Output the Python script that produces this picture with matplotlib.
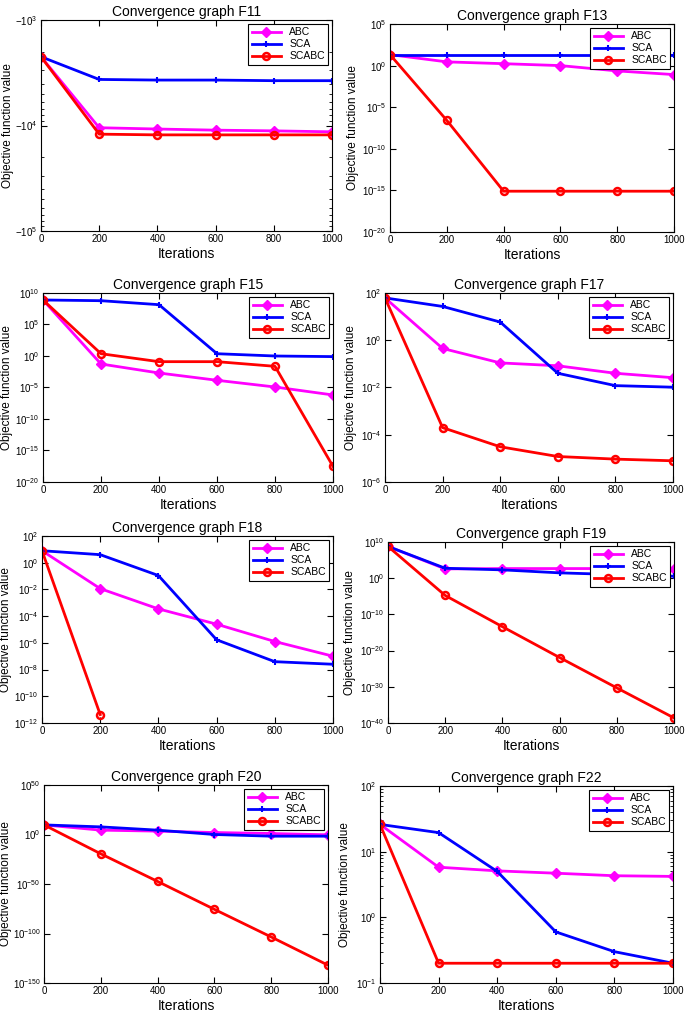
import matplotlib
matplotlib.use("Agg")
import matplotlib.pyplot as plt
from matplotlib.ticker import FixedLocator, FixedFormatter, NullLocator, LogLocator

plt.rcParams['font.family'] = ['Liberation Sans', 'DejaVu Sans']
plt.rcParams['mathtext.fontset'] = 'custom'
plt.rcParams['mathtext.rm'] = 'Liberation Sans'
plt.rcParams['axes.unicode_minus'] = False

iters = [0, 200, 400, 600, 800, 1000]
x_ticks = [0, 200, 400, 600, 800, 1000]

# F11 (values are negative, stored as magnitudes)
f11_abc = [2230, 10500, 10800, 11070, 11240, 11480]
f11_sca = [2230, 3660, 3710, 3710, 3760, 3760]
f11_scabc = [2230, 12080, 12270, 12270, 12270, 12270]

f13_abc = [21, 2.8, 1.7, 1.0, 0.23, 0.083]
f13_sca = [21, 21, 21, 21, 21, 21]
f13_scabc = [21, 2.6e-7, 8e-16, 8e-16, 8e-16, 8e-16]

f15_abc = [7.8e8, 0.054, 2e-3, 1.4e-4, 1.2e-5, 6.5e-7]
f15_sca = [7.8e8, 6e8, 1.4e8, 2.3, 1.0, 0.8]
f15_scabc = [7.8e8, 2.3, 0.126, 0.126, 0.023, 3e-18]

f17_abc = [62, 0.45, 0.11, 0.083, 0.04, 0.026]
f17_sca = [62, 27, 5.9, 0.04, 0.012, 0.0103]
f17_scabc = [62, 2e-4, 3.1e-5, 1.2e-5, 9.3e-6, 7.9e-6]

f18_abc = [7.9, 0.0115, 3.5e-4, 2.5e-5, 1.26e-6, 1.0e-7]
f18_sca = [7.9, 4.0, 0.11, 1.7e-6, 3.9e-8, 2.5e-8]
f18_scabc = [7.9, 4.3e-12]

f19_abc = [6e8, 370, 460, 460, 460, 370]
f19_sca = [6e8, 560, 200, 30, 10, 3.5]
f19_scabc = [6e8, 1.7e-5, 4e-14, 1.2e-22, 5e-31, 2.5e-39]

f20_abc = [5e9, 2.5e4, 2.5e3, 100, 10, 0.5]
f20_sca = [5e9, 5e7, 2.5e4, 1.0, 0.02, 0.02]
f20_scabc = [5e9, 3e-20, 4e-48, 2.5e-76, 3e-104, 1e-132]

f22_abc = [26, 5.8, 5.1, 4.7, 4.3, 4.2]
f22_sca = [26, 19.5, 5.0, 0.6, 0.3, 0.2]
f22_scabc = [26, 0.2, 0.2, 0.2, 0.2, 0.2]

W, H = 685, 1017
fig = plt.figure(figsize=(W / 100, H / 100), dpi=100)


def make_ax(l, r, t, b, lab_x):
    ax = fig.add_axes([l / W, 1 - b / H, (r - l) / W, (b - t) / H])
    # lab_x: right edge of the rotated y label, in figure pixels
    ax.yaxis.set_label_coords((lab_x - l) / (r - l), 0.5)
    return ax


def draw(ax, name, abc, sca, scabc, exps, ylim, minor=False, neg=False):
    ax.plot(iters, abc, color='#ff00ff', lw=2, marker='D', ms=5, label='ABC')
    ax.plot(iters, sca, color='#0000ff', lw=2, marker='+', ms=4, mew=1.5, label='SCA')
    ax.plot(iters[:len(scabc)], scabc, color='#ff0000', lw=2, marker='o', ms=5,
            mfc='none', mew=1.8, label='SCABC')
    ax.set_yscale('log')
    ax.set_ylim(ylim)
    if neg:
        ax.invert_yaxis()
    ax.set_xlim(0, 1000)
    ax.set_xticks(x_ticks)
    ax.yaxis.set_major_locator(FixedLocator([10.0 ** e for e in exps]))
    sign = '-' if neg else ''
    ax.yaxis.set_major_formatter(FixedFormatter(['$' + sign + '10^{%d}$' % e for e in exps]))
    if minor:
        ax.yaxis.set_minor_locator(LogLocator(base=10, subs=range(2, 10)))
    else:
        ax.yaxis.set_minor_locator(NullLocator())
    ax.tick_params(direction='in', which='both', top=True, right=True, labelsize=7)
    ax.tick_params(which='major', length=4, pad=2.5)
    ax.tick_params(which='minor', length=2)
    ax.set_title('Convergence graph ' + name, fontsize=10, pad=3)
    ax.set_xlabel('Iterations', fontsize=10, labelpad=2)
    ax.set_ylabel('Objective function value', fontsize=8.5)
    leg = ax.legend(loc='upper right', fontsize=7.5, fancybox=False, framealpha=1,
                    edgecolor='black', borderaxespad=0.4, handlelength=2.8,
                    borderpad=0.3, labelspacing=0.2)
    leg.get_frame().set_linewidth(0.8)


draw(make_ax(41, 332, 20, 231, 14), 'F11', f11_abc, f11_sca, f11_scabc,
     [3, 4, 5], (1e3, 1e5), minor=True, neg=True)
draw(make_ax(390, 674, 24, 232, 359), 'F13', f13_abc, f13_sca, f13_scabc,
     [5, 0, -5, -10, -15, -20], (1e-20, 1e5))
draw(make_ax(43, 333, 293, 482, 13), 'F15', f15_abc, f15_sca, f15_scabc,
     [10, 5, 0, -5, -10, -15, -20], (1e-20, 1e10))
draw(make_ax(385, 673, 293, 482, 357), 'F17', f17_abc, f17_sca, f17_scabc,
     [2, 0, -2, -4, -6], (1e-6, 1e2))
draw(make_ax(42, 333, 536, 723, 12), 'F18', f18_abc, f18_sca, f18_scabc,
     [2, 0, -2, -4, -6, -8, -10, -12], (1e-12, 1e2))
draw(make_ax(388, 674, 542, 723, 356), 'F19', f19_abc, f19_sca, f19_scabc,
     [10, 0, -10, -20, -30, -40], (1e-40, 1e10))
draw(make_ax(44, 328, 785, 983, 12), 'F20', f20_abc, f20_sca, f20_scabc,
     [50, 0, -50, -100, -150], (1e-150, 1e50))
draw(make_ax(380, 673, 786, 983, 351), 'F22', f22_abc, f22_sca, f22_scabc,
     [2, 1, 0, -1], (1e-1, 1e2), minor=True)

fig.savefig('out.png', dpi=100)
